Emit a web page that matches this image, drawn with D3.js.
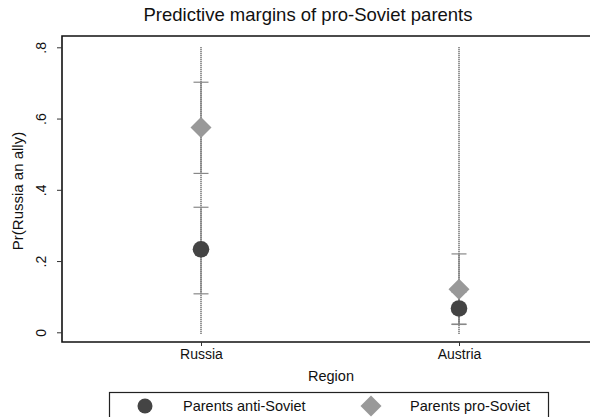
<!DOCTYPE html>
<html lang="en">
<head>
    <meta charset="UTF-8">
    <title>Predictive margins of pro-Soviet parents</title>
    <script src="https://d3js.org/d3.v7.min.js" charset="utf-8"></script>
    <style>
        body { margin: 0; background: #fff; }
        svg { font-family: 'Liberation Sans', Arial, sans-serif; }
    </style>
</head>
<body>
    <div id="chart"></div>
    <script>
        // data
        var regions = ['Russia', 'Austria'];
        var groups = ['Parents anti-Soviet', 'Parents pro-Soviet'];
        var antiMargin = [0.233, 0.067];
        var antiLower = [0.108, 0.022];
        var antiUpper = [0.351, 0.113];
        var proMargin = [0.575, 0.121];
        var proLower = [0.446, 0.023];
        var proUpper = [0.702, 0.220];
        var yTicks = [0, 0.2, 0.4, 0.6, 0.8];
        var yTickLabels = ['0', '.2', '.4', '.6', '.8'];

        var width = 590, height = 417;
        var plotLeft = 62, plotTop = 36, plotBottom = 342;

        var svg = d3.select('#chart').append('svg')
            .attr('width', width)
            .attr('height', height);

        var xScale = d3.scalePoint()
            .domain(regions)
            .range([201, 459]);

        var yScale = d3.scaleLinear()
            .domain([0, 0.8])
            .range([332.3, 47.3]);

        // title
        svg.append('text')
            .attr('x', 308)
            .attr('y', 21)
            .attr('text-anchor', 'middle')
            .style('font-size', '18.5px')
            .attr('fill', '#111')
            .text('Predictive margins of pro-Soviet parents');

        // frame (left, top, bottom; right side runs off the picture)
        svg.append('path')
            .attr('d', 'M' + (width + 10) + ',' + plotTop + 'H' + plotLeft + 'V' + plotBottom + 'H' + (width + 10))
            .attr('fill', 'none')
            .attr('stroke', '#111')
            .attr('stroke-width', 1.6);

        // y axis ticks
        var yAxis = d3.axisLeft(yScale)
            .tickValues(yTicks)
            .tickSize(5)
            .tickFormat((d, i) => yTickLabels[i]);
        var gy = svg.append('g')
            .attr('transform', 'translate(' + plotLeft + ',0)')
            .call(yAxis);
        gy.select('.domain').remove();
        gy.selectAll('line').attr('stroke', '#333');
        gy.selectAll('.tick text')
            .attr('x', 0).attr('dy', null).attr('y', 0)
            .attr('transform', 'translate(-20,0) rotate(-90)')
            .attr('text-anchor', 'middle')
            .attr('dominant-baseline', 'middle')
            .style('font-size', '14px')
            .attr('fill', '#111');

        // x axis ticks
        var xAxis = d3.axisBottom(xScale).tickSize(4).tickPadding(3);
        var gx = svg.append('g')
            .attr('transform', 'translate(0,' + plotBottom + ')')
            .call(xAxis);
        gx.select('.domain').remove();
        gx.selectAll('line').attr('stroke', '#333');
        gx.selectAll('text')
            .style('font-size', '14px')
            .attr('fill', '#111');

        // axis titles
        svg.append('text')
            .attr('x', 331)
            .attr('y', 381)
            .attr('text-anchor', 'middle')
            .style('font-size', '14.5px')
            .attr('fill', '#111')
            .text('Region');

        svg.append('text')
            .attr('transform', 'translate(19,191) rotate(-90)')
            .attr('text-anchor', 'middle')
            .attr('dominant-baseline', 'middle')
            .style('font-size', '15px')
            .attr('fill', '#111')
            .text('Pr(Russia an ally)');

        // dotted guide lines
        svg.selectAll('.guide')
            .data(regions)
            .enter()
            .append('line')
            .attr('class', 'guide')
            .attr('x1', d => xScale(d))
            .attr('x2', d => xScale(d))
            .attr('y1', yScale(0.8))
            .attr('y2', yScale(-0.005))
            .attr('stroke', '#444')
            .attr('stroke-width', 1.5)
            .attr('stroke-dasharray', '1,1');

        // confidence intervals
        var ciData = [];
        regions.forEach(function (r, i) {
            ciData.push({ region: r, lo: antiLower[i], hi: antiUpper[i] });
            ciData.push({ region: r, lo: proLower[i], hi: proUpper[i] });
        });
        var ci = svg.selectAll('.ci')
            .data(ciData)
            .enter()
            .append('g')
            .attr('class', 'ci');
        ci.append('line')
            .attr('x1', d => xScale(d.region))
            .attr('x2', d => xScale(d.region))
            .attr('y1', d => yScale(d.lo))
            .attr('y2', d => yScale(d.hi))
            .attr('stroke', '#777')
            .attr('stroke-width', 1);
        ci.selectAll('.cap')
            .data(d => [{ region: d.region, v: d.lo }, { region: d.region, v: d.hi }])
            .enter()
            .append('line')
            .attr('class', 'cap')
            .attr('x1', d => xScale(d.region) - 7.5)
            .attr('x2', d => xScale(d.region) + 7.5)
            .attr('y1', d => yScale(d.v))
            .attr('y2', d => yScale(d.v))
            .attr('stroke', '#888')
            .attr('stroke-width', 1.2);

        // markers
        var diamond = d3.symbol().type(d3.symbolSquare).size(220);
        svg.selectAll('.pro')
            .data(regions)
            .enter()
            .append('path')
            .attr('class', 'pro')
            .attr('d', diamond)
            .attr('transform', (d, i) => 'translate(' + xScale(d) + ',' + yScale(proMargin[i]) + ') rotate(45)')
            .attr('fill', '#999');

        svg.selectAll('.anti')
            .data(regions)
            .enter()
            .append('circle')
            .attr('class', 'anti')
            .attr('cx', d => xScale(d))
            .attr('cy', (d, i) => yScale(antiMargin[i]))
            .attr('r', 8.3)
            .attr('fill', '#444');

        // legend
        var legend = svg.append('g');
        legend.append('rect')
            .attr('x', 109.5)
            .attr('y', 392.5)
            .attr('width', 439)
            .attr('height', 40)
            .attr('fill', '#fff')
            .attr('stroke', '#222')
            .attr('stroke-width', 1.2);

        legend.append('circle')
            .attr('cx', 145)
            .attr('cy', 406)
            .attr('r', 7.5)
            .attr('fill', '#444');
        legend.append('path')
            .attr('d', diamond)
            .attr('transform', 'translate(371,406) rotate(45)')
            .attr('fill', '#999');

        legend.selectAll('.ltext')
            .data(groups)
            .enter()
            .append('text')
            .attr('class', 'ltext')
            .attr('x', (d, i) => i === 0 ? 183 : 410)
            .attr('y', 411)
            .style('font-size', '14.5px')
            .attr('fill', '#111')
            .text(d => d);
    </script>
</body>
</html>
